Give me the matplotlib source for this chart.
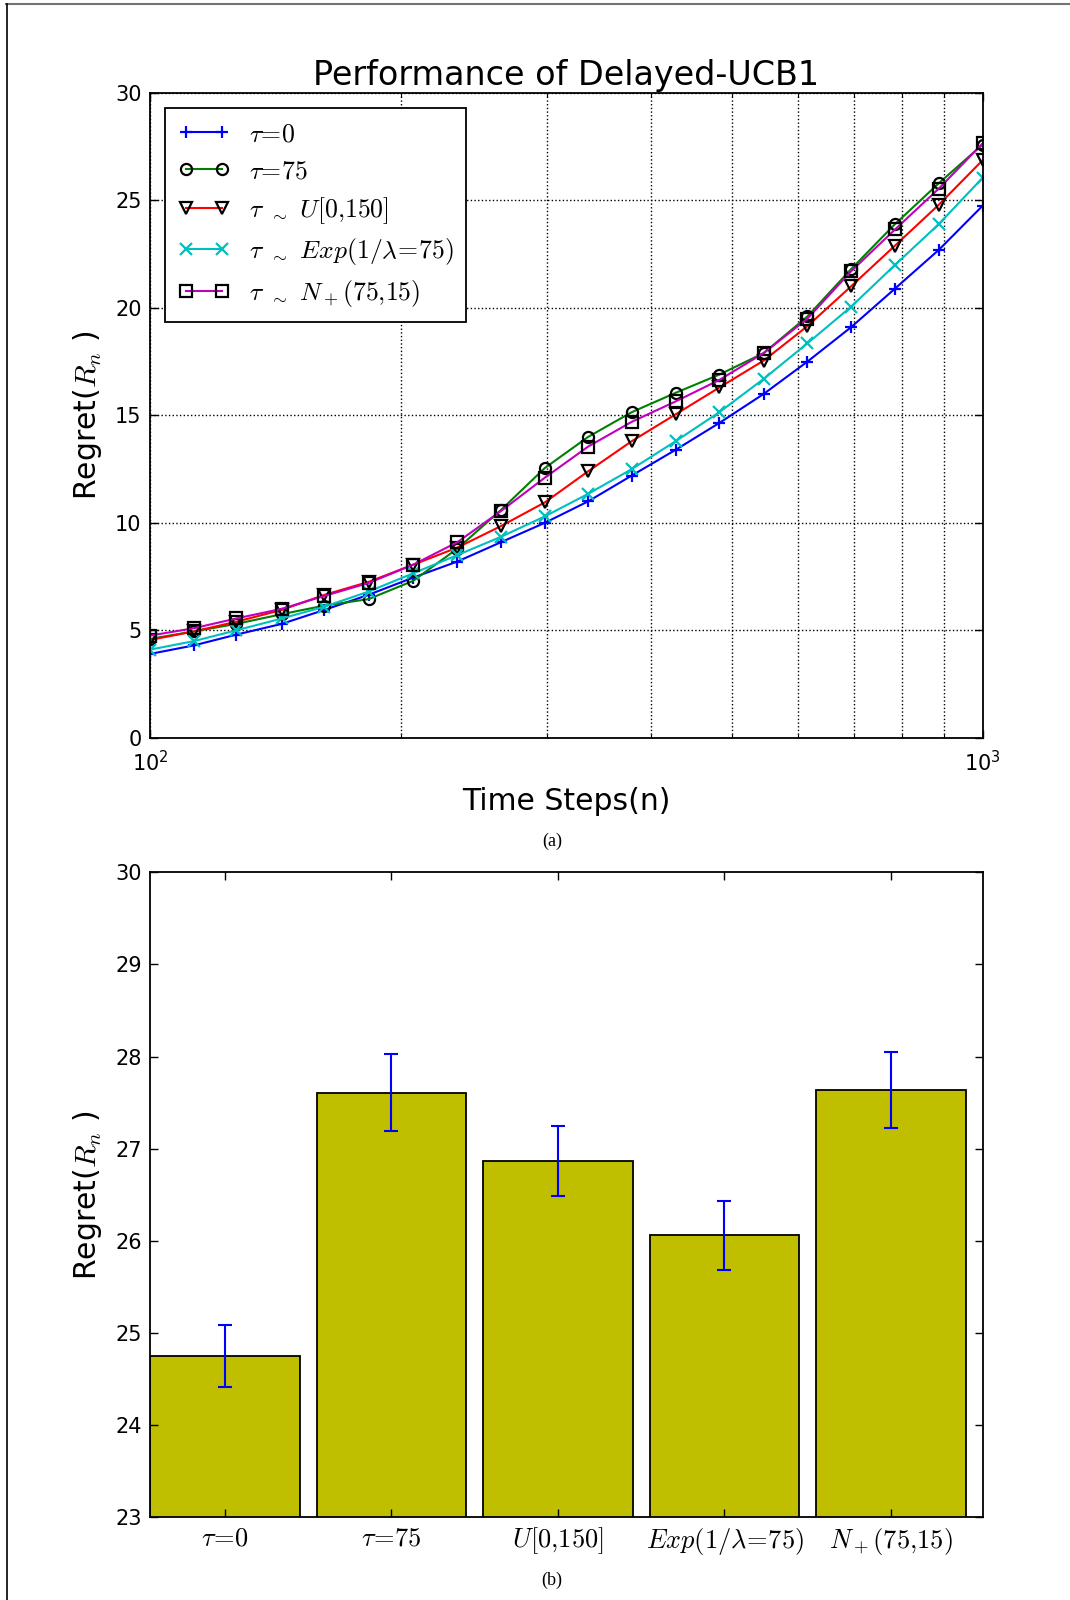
import matplotlib
matplotlib.use("Agg")
import matplotlib.pyplot as plt
from matplotlib.lines import Line2D
from matplotlib.ticker import LogLocator, NullFormatter

plt.rcParams['mathtext.fontset'] = 'cm'
plt.rcParams['font.family'] = 'DejaVu Sans'

# time steps (log-spaced between 10^2 and 10^3)
steps = [100, 113, 127, 144, 162, 183, 207, 234, 264, 298,
         336, 379, 428, 483, 546, 616, 695, 785, 886, 1000]

regret_tau0 = [3.9, 4.3, 4.8, 5.3, 5.95, 6.65, 7.45, 8.2, 9.1, 10.0,
               11.0, 12.2, 13.4, 14.65, 16.0, 17.5, 19.1, 20.9, 22.7, 24.75]
regret_tau75 = [4.6, 4.95, 5.3, 5.75, 6.15, 6.45, 7.3, 8.8, 10.6, 12.55,
                14.0, 15.15, 16.05, 16.9, 17.9, 19.6, 21.8, 23.9, 25.8, 27.6]
regret_unif = [4.55, 4.95, 5.4, 5.95, 6.65, 7.25, 8.05, 8.85, 9.85, 10.95,
               12.4, 13.8, 15.05, 16.3, 17.55, 19.15, 21.0, 22.9, 24.8, 26.87]
regret_exp = [4.1, 4.5, 5.0, 5.55, 6.1, 6.8, 7.65, 8.5, 9.35, 10.3,
              11.35, 12.5, 13.8, 15.15, 16.7, 18.35, 20.05, 22.0, 23.9, 26.05]
regret_norm = [4.75, 5.1, 5.55, 6.0, 6.6, 7.2, 8.05, 9.1, 10.55, 12.1,
               13.55, 14.7, 15.65, 16.65, 17.9, 19.5, 21.7, 23.65, 25.55, 27.65]

legend_labels = [r'$\tau\!=\!0$', r'$\tau\!=\!75$',
                 r'$\tau$ $_\sim$ $U[0{,}150]$',
                 r'$\tau$ $_\sim$ $Exp(1/\lambda\!=\!75)$',
                 r'$\tau$ $_\sim$ $N_+(75{,}15)$']

# final regret at n=1000 with standard error
bar_labels = [r'$\tau\!=\!0$', r'$\tau\!=\!75$', r'$U[0{,}150]$',
              r'$Exp(1/\lambda\!=\!75)$', r'$N_+(75{,}15)$']
final_regret = [24.75, 27.61, 26.87, 26.06, 27.64]
final_err = [0.34, 0.42, 0.38, 0.375, 0.415]

series = [regret_tau0, regret_tau75, regret_unif, regret_exp, regret_norm]
styles = [dict(color='b', marker='+', mec='b'),
          dict(color='g', marker='o', mec='k', mfc='none'),
          dict(color='r', marker='v', mec='k', mfc='none'),
          dict(color='c', marker='x', mec='c'),
          dict(color='m', marker='s', mec='k', mfc='none')]

fig = plt.figure(figsize=(10.7, 16), dpi=100)

def style_axes(ax):
    for s in ax.spines.values():
        s.set_linewidth(1.3)
    ax.tick_params(which='both', direction='in', top=True, right=True,
                   labelsize=15, pad=6)
    ax.tick_params(which='major', length=6, width=1)
    ax.tick_params(which='minor', length=3, width=0.8)

# (a) regret over time
ax1 = fig.add_axes([0.1402, 0.5389, 0.7781, 0.4030])
for ys, st, lab in zip(series, styles, legend_labels):
    ax1.plot(steps, ys, lw=1.5, ms=8, mew=1.6, label=lab, **st)
ax1.set_xscale('log')
ax1.set_xlim(100, 1000)
ax1.set_ylim(0, 30)
ax1.xaxis.set_minor_locator(LogLocator(subs=range(2, 10)))
ax1.xaxis.set_minor_formatter(NullFormatter())
ax1.grid(True, which='both', axis='x', color='k', ls=':', lw=1)
ax1.grid(True, which='major', axis='y', color='k', ls=':', lw=1)
style_axes(ax1)
ax1.tick_params(axis='x', which='major', pad=9)
ax1.set_title('Performance of Delayed-UCB1', fontsize=24, pad=6)
ax1.set_xlabel('Time Steps(n)', fontsize=21.5, labelpad=8)
ax1.set_ylabel(r'Regret($R_n$ )', fontsize=21.5, labelpad=8)
leg = ax1.legend(loc='upper left', numpoints=2, fontsize=18.5, fancybox=False,
                 borderpad=0.5, labelspacing=0.42, handlelength=2.0,
                 handletextpad=0.75, borderaxespad=0.6)
leg.get_frame().set_edgecolor('k')
leg.get_frame().set_linewidth(1.3)
leg.get_frame().set_alpha(1)

# (b) final regret per delay distribution
ax2 = fig.add_axes([0.1402, 0.0517, 0.7781, 0.4031])
pos = list(range(len(final_regret)))
ax2.bar(pos, final_regret, width=0.9, align='edge', color=(0.75, 0.75, 0),
        edgecolor='k', linewidth=1.3)
centers = [p + 0.45 for p in pos]
ax2.errorbar(centers, final_regret, yerr=final_err, fmt='none', ecolor='b',
             elinewidth=1.5, capsize=5, capthick=1.5)
ax2.set_xlim(0, 5)
ax2.set_ylim(23, 30)
ax2.set_xticks(centers)
ax2.set_xticklabels(bar_labels)
style_axes(ax2)
ax2.tick_params(axis='x', labelsize=19)
ax2.set_ylabel(r'Regret($R_n$ )', fontsize=21.5, labelpad=8)

fig.text(0.516, 1 - 841 / 1600, '(a)', ha='center', va='center',
         family='Liberation Serif', fontsize=13)
fig.text(0.516, 1 - 1580 / 1600, '(b)', ha='center', va='center',
         family='Liberation Serif', fontsize=13)

# page frame: top and left edges
fig.add_artist(Line2D([0.006, 1], [0.9975, 0.9975], color='0.45', lw=1.5,
                      transform=fig.transFigure))
fig.add_artist(Line2D([0.0065, 0.0065], [0, 0.9975], color='k', lw=1.2,
                      transform=fig.transFigure))

fig.savefig('out.png', dpi=100)
